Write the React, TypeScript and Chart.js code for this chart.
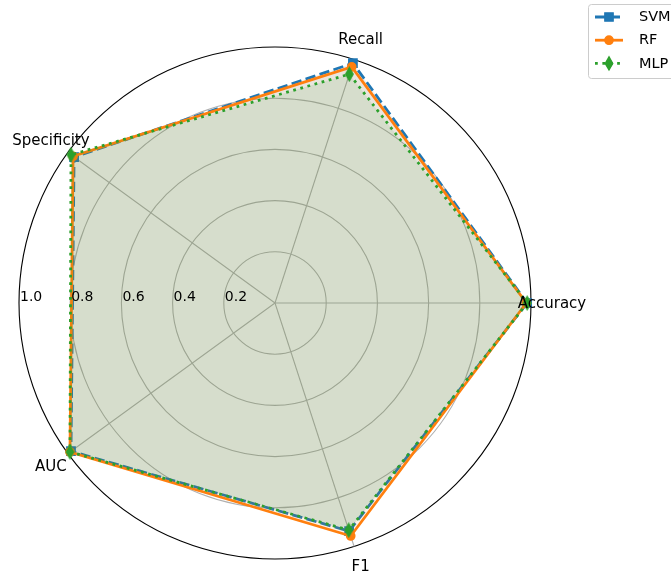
import React, { useEffect, useRef } from 'react';
import { Chart, registerables } from 'chart.js';

Chart.register(...registerables);

const categories = ['Accuracy', 'F1', 'AUC', 'Specificity', 'Recall'];
const svmValues = [0.985, 0.937, 0.985, 0.97, 0.985];
const rfValues = [0.982, 0.957, 0.99, 0.975, 0.97];
const mlpValues = [0.985, 0.933, 0.99, 0.985, 0.94];
const tickValues = [0.2, 0.4, 0.6, 0.8, 1.0];
const tickLabels = ['0.2', '0.4', '0.6', '0.8', '1.0'];
const seriesNames = ['SVM', 'RF', 'MLP'];

const BLUE = '#1f77b4';
const ORANGE = '#ff7f0e';
const GREEN = '#2ca02c';
const TICK_FONT = '14px "DejaVu Sans"';
const LABEL_FONT = '15px "DejaVu Sans"';
const LEGEND_FONT = '14.5px "DejaVu Sans"';
const LW = 2.78;
const DASHED = [10.3, 4.4];
const DOTTED = [2.78, 4.6];

function makeThinDiamond(color: string): HTMLCanvasElement {
  const c = document.createElement('canvas');
  c.width = 11;
  c.height = 16;
  const g = c.getContext('2d')!;
  g.beginPath();
  g.moveTo(5.5, 1.5);
  g.lineTo(9.2, 8);
  g.lineTo(5.5, 14.5);
  g.lineTo(1.8, 8);
  g.closePath();
  g.fillStyle = color;
  g.fill();
  g.strokeStyle = color;
  g.lineWidth = 1.4;
  g.stroke();
  return c;
}

function drawMarker(ctx: CanvasRenderingContext2D, kind: string, x: number, y: number, color: string) {
  ctx.save();
  ctx.setLineDash([]);
  ctx.fillStyle = color;
  ctx.strokeStyle = color;
  ctx.lineWidth = 1.4;
  ctx.beginPath();
  if (kind === 'rect') {
    ctx.rect(x - 4.15, y - 4.15, 8.3, 8.3);
  } else if (kind === 'circle') {
    ctx.arc(x, y, 4.15, 0, Math.PI * 2);
  } else {
    ctx.moveTo(x, y - 6.5);
    ctx.lineTo(x + 3.7, y);
    ctx.lineTo(x, y + 6.5);
    ctx.lineTo(x - 3.7, y);
    ctx.closePath();
  }
  ctx.fill();
  ctx.stroke();
  ctx.restore();
}

const overlay = {
  id: 'overlay',
  afterDraw(chart: any) {
    const ctx: CanvasRenderingContext2D = chart.ctx;
    const r = chart.scales.r;
    ctx.save();
    ctx.fillStyle = '#000';
    // radial tick labels along 180 degrees
    ctx.font = TICK_FONT;
    ctx.textAlign = 'left';
    ctx.textBaseline = 'alphabetic';
    tickValues.forEach((v, i) => {
      const d = r.getDistanceFromCenterForValue(v);
      ctx.fillText(tickLabels[i], r.xCenter - d + 1, r.yCenter - 2);
    });
    // category labels
    ctx.font = LABEL_FONT;
    ctx.textAlign = 'center';
    ctx.textBaseline = 'middle';
    categories.forEach((lab, i) => {
      const p = r.getPointPosition(i, r.drawingArea + 21);
      ctx.fillText(lab, p.x, p.y + 1);
    });
    // legend
    const lx = 588.5, ly = 4.5, lw = 100, lh = 74;
    ctx.beginPath();
    const rad = 3;
    ctx.moveTo(lx + rad, ly);
    ctx.lineTo(lx + lw - rad, ly);
    ctx.arcTo(lx + lw, ly, lx + lw, ly + rad, rad);
    ctx.lineTo(lx + lw, ly + lh - rad);
    ctx.arcTo(lx + lw, ly + lh, lx + lw - rad, ly + lh, rad);
    ctx.lineTo(lx + rad, ly + lh);
    ctx.arcTo(lx, ly + lh, lx, ly + lh - rad, rad);
    ctx.lineTo(lx, ly + rad);
    ctx.arcTo(lx, ly, lx + rad, ly, rad);
    ctx.closePath();
    ctx.fillStyle = 'rgba(255,255,255,0.8)';
    ctx.fill();
    ctx.strokeStyle = '#cccccc';
    ctx.lineWidth = 1;
    ctx.stroke();
    const colors = [BLUE, ORANGE, GREEN];
    const dashes = [DASHED, [], DOTTED];
    const kinds = ['rect', 'circle', 'diamond'];
    const rows = [17, 40.2, 63.4];
    ctx.font = LEGEND_FONT;
    seriesNames.forEach((name, i) => {
      const y = rows[i];
      ctx.save();
      ctx.strokeStyle = colors[i];
      ctx.lineWidth = LW;
      ctx.setLineDash(dashes[i]);
      ctx.beginPath();
      ctx.moveTo(595, y);
      ctx.lineTo(623, y);
      ctx.stroke();
      ctx.restore();
      drawMarker(ctx, kinds[i], 609, y, colors[i]);
      ctx.fillStyle = '#000';
      ctx.textAlign = 'left';
      ctx.textBaseline = 'middle';
      ctx.fillText(name, 639, y + 0.5);
    });
    ctx.restore();
  },
};

export default function App() {
  const ref = useRef<HTMLCanvasElement | null>(null);
  useEffect(() => {
    if (!ref.current) return;
    const diamond = makeThinDiamond(GREEN);
    const chart = new Chart(ref.current, {
      type: 'radar',
      data: {
        labels: categories,
        datasets: [
          {
            label: seriesNames[0],
            data: svmValues,
            borderColor: BLUE,
            backgroundColor: 'rgba(31,119,180,0.1)',
            borderWidth: LW,
            borderDash: DASHED,
            fill: true,
            pointStyle: 'rect',
            pointRadius: 5.9,
            pointBorderWidth: 1.4,
            pointBackgroundColor: BLUE,
            pointBorderColor: BLUE,
            order: 3,
          },
          {
            label: seriesNames[1],
            data: rfValues,
            borderColor: ORANGE,
            backgroundColor: 'rgba(255,127,14,0.1)',
            borderWidth: LW,
            fill: true,
            pointStyle: 'circle',
            pointRadius: 4.15,
            pointBorderWidth: 1.4,
            pointBackgroundColor: ORANGE,
            pointBorderColor: ORANGE,
            order: 2,
          },
          {
            label: seriesNames[2],
            data: mlpValues,
            borderColor: GREEN,
            backgroundColor: 'rgba(44,160,44,0.1)',
            borderWidth: LW,
            borderDash: DOTTED,
            fill: true,
            pointStyle: diamond as any,
            pointRadius: 6,
            pointBackgroundColor: GREEN,
            pointBorderColor: GREEN,
            order: 1,
          },
        ],
      },
      options: {
        responsive: false,
        animation: false,
        devicePixelRatio: 1,
        layout: { padding: { left: 19, top: 47, right: 140, bottom: 20 } },
        elements: { line: { tension: 0 } },
        plugins: {
          legend: { display: false },
          tooltip: { enabled: false },
        },
        scales: {
          r: {
            min: 0,
            max: 1,
            startAngle: 90,
            ticks: { display: false, stepSize: 0.2 },
            pointLabels: { display: false },
            grid: {
              circular: true,
              color: (c: any) => (c.tick && c.tick.value > 0.999 ? '#000000' : '#b0b0b0'),
              lineWidth: 1.1,
            },
            angleLines: { color: '#b0b0b0', lineWidth: 1.1 },
          },
        },
      },
      plugins: [overlay],
    });
    return () => chart.destroy();
  }, []);
  return (
    <div style={{ position: 'fixed', left: 0, top: 0, width: 671, height: 579, background: '#fff' }}>
      <canvas ref={ref} width={671} height={579} style={{ width: 671, height: 579 }} />
    </div>
  );
}
